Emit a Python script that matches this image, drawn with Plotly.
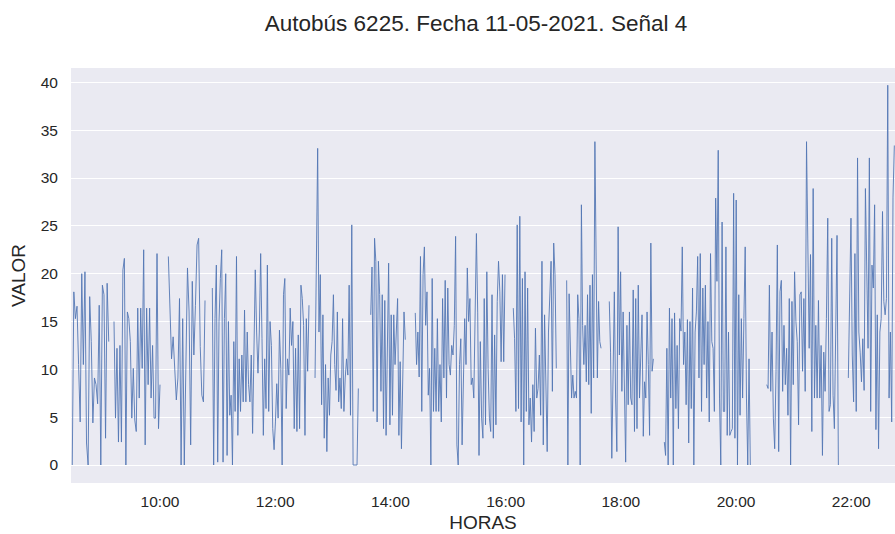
import pandas as pd
import plotly.graph_objects as go

DAY = "2021-05-11"

# Segment time bounds (start, end) — series has gaps between segments
seg_times = [
    ("08:28:36", "09:06:36"), ("09:12:06", "10:00:00"), ("10:08:42", "10:46:54"),
    ("10:54:30", "12:35:12"), ("12:41:30", "13:26:36"), ("13:39:30", "14:15:30"),
    ("14:25:54", "15:59:24"), ("16:08:00", "16:52:48"), ("17:03:36", "17:39:24"),
    ("17:48:00", "18:33:54"), ("18:45:18", "20:14:54"), ("20:32:00", "21:46:36"),
    ("21:57:00", "22:44:54"),
]

seg_a = [0, 18.1, 15.3, 16.6, 10.5, 4.5, 20.0, 10.5, 20.2, 2.3, 0, 17.6, 12.9, 4.4, 9.1, 8.4, 6.4, 16.7, 0, 18.8, 17.8, 2.8, 19.0, 12.9]
seg_b = [15.0, 4.9, 12.2, 2.4, 12.5, 2.4, 20.4, 21.6, 0, 16.0, 15.3, 12.9, 4.9, 10.1, 4.7, 3.5, 16.4, 7.0, 16.4, 10.1, 22.5, 2.1, 16.4, 8.4, 16.4, 7.0, 12.5, 4.9, 4.9, 22.1, 3.8, 8.4]
seg_c = [21.8, 16.7, 11.1, 13.4, 9.1, 6.8, 9.1, 17.4, 0, 15.3, 0, 10.5, 20.6, 16.0, 2.1, 19.2, 11.5, 16.7, 23.0, 23.7, 12.4, 7.3, 6.6, 17.2]
seg_d = [18.5, 0, 15.3, 20.9, 0.3, 15.0, 19.5, 22.5, 0.3, 15.3, 20.0, 1.0, 15.0, 5.2, 7.3, 0, 12.9, 5.6, 21.8, 3.1, 11.1, 5.6, 11.5, 6.6, 16.2, 6.6, 13.9, 8.4, 6.6, 11.5, 3.3, 13.4, 20.4, 13.9, 9.6, 13.9, 22.1, 13.2, 3.1, 11.1, 5.9, 20.9, 5.6, 15.0, 12.5, 3.8, 1.6, 4.5, 8.5, 4.9, 14.1, 10.1, 0, 17.8, 19.5, 5.9, 11.1, 9.4, 16.4, 12.5, 15.0, 3.8, 12.2, 3.5, 13.6, 3.8, 18.8, 17.4, 14.6, 3.1, 15.3, 9.8, 16.7]
seg_e = [9.1, 19.9, 33.1, 13.9, 19.9, 6.3, 15.7, 2.8, 10.5, 1.4, 9.1, 5.2, 11.5, 12.9, 17.8, 10.5, 7.8, 16.0, 6.6, 9.1, 5.9, 15.3, 5.6, 9.1, 11.1, 9.4, 18.8, 5.2, 25.1, 0, 0, 0, 0, 8.0]
seg_f = [15.7, 20.7, 5.6, 23.7, 21.3, 4.5, 21.3, 17.8, 7.7, 17.8, 3.8, 17.2, 3.1, 13.9, 21.1, 4.2, 15.7, 5.2, 15.7, 10.5, 13.9, 17.4, 3.1, 10.8, 1.7, 7.3, 16.0, 13.1]
seg_g = [15.9, 10.5, 13.9, 9.2, 21.8, 5.6, 19.9, 22.8, 14.6, 18.1, 7.3, 10.1, 0, 19.5, 5.6, 12.2, 5.6, 15.3, 5.6, 10.5, 4.5, 17.4, 9.1, 19.3, 7.0, 18.5, 10.5, 9.4, 12.5, 11.5, 14.6, 23.9, 2.1, 0, 10.5, 13.2, 2.1, 10.5, 15.3, 10.5, 20.6, 15.0, 17.4, 8.4, 9.1, 7.0, 16.0, 24.2, 15.9, 1.0, 12.9, 4.9, 2.8, 17.4, 4.2, 20.2, 10.1, 4.9, 3.5, 17.8, 2.8, 13.6, 4.2, 17.1, 21.3, 18.1, 10.8, 19.9, 10.8, 19.9]
seg_h = [16.4, 13.2, 5.6, 25.1, 5.9, 26.0, 4.5, 19.5, 0, 20.2, 5.6, 18.5, 4.2, 7.0, 2.4, 8.4, 3.5, 14.3, 7.0, 8.0, 11.5, 5.2, 21.3, 2.1, 15.7, 6.3, 1.4, 13.9, 17.8, 21.3, 7.7, 23.2, 19.9, 10.1]
seg_i = [19.3, 0, 17.9, 12.2, 7.0, 9.4, 7.0, 7.7, 7.0, 17.8, 15.3, 0, 27.2, 14.6, 10.5, 14.6, 8.7, 17.8, 8.4, 18.8, 5.4, 19.9, 9.1, 33.8, 17.4, 9.1, 17.1, 12.9, 12.2]
seg_j = [17.1, 11.8, 0.7, 10.5, 18.1, 7.0, 1.4, 24.9, 11.5, 20.2, 7.7, 16.0, 8.0, 0.3, 14.6, 6.3, 16.0, 7.0, 6.3, 18.3, 3.5, 17.4, 3.8, 18.8, 7.0, 10.5, 15.7, 3.0, 8.7, 7.0, 16.0, 10.5, 3.1, 23.2, 9.8, 11.1]
seg_k = [2.4, 1.0, 12.2, 0, 16.4, 7.0, 15.3, 0, 15.9, 5.9, 12.5, 3.8, 15.3, 14.0, 22.8, 10.5, 13.9, 6.3, 15.2, 2.3, 15.0, 5.9, 18.5, 0, 13.9, 16.0, 21.8, 9.1, 22.1, 5.6, 18.5, 10.5, 18.8, 7.0, 15.0, 4.5, 22.1, 12.9, 12.2, 5.6, 27.9, 19.2, 32.9, 7.0, 0, 25.4, 5.6, 5.6, 22.8, 3.1, 13.9, 3.1, 3.5, 3.8, 28.4, 2.8, 27.7, 0, 17.8, 5.2, 15.3, 7.0, 15.3, 22.8, 7.0, 0, 11.1, 0]
seg_l = [8.4, 8.0, 18.8, 7.7, 13.9, 4.9, 1.7, 9.8, 23.0, 1.4, 18.1, 19.3, 7.7, 14.6, 8.4, 12.2, 5.2, 17.4, 0, 17.1, 8.4, 20.2, 15.0, 12.9, 4.2, 17.8, 18.1, 9.8, 17.4, 7.7, 33.8, 23.3, 12.2, 22.0, 3.5, 28.9, 7.0, 14.6, 7.0, 17.2, 7.0, 12.5, 1.0, 11.8, 7.7, 15.3, 25.8, 5.6, 6.3, 23.7, 7.3, 3.8, 16.7, 24.0, 0]
seg_m = [9.1, 19.2, 25.8, 11.5, 6.6, 22.1, 5.6, 32.1, 13.9, 11.8, 8.7, 13.2, 7.8, 28.9, 17.4, 12.2, 32.1, 5.6, 20.9, 18.5, 27.2, 3.7, 15.7, 1.7, 13.9, 15.3, 26.5, 17.1, 15.7, 17.4, 39.7, 7.0, 13.9, 4.5, 28.0, 33.4]

segments = [seg_a, seg_b, seg_c, seg_d, seg_e, seg_f, seg_g, seg_h, seg_i, seg_j, seg_k, seg_l, seg_m]

x_all, y_all = [], []
for (t0, t1), vals in zip(seg_times, segments):
    times = pd.date_range(f"{DAY} {t0}", f"{DAY} {t1}", periods=len(vals))
    x_all.extend(times.to_pydatetime().tolist())
    y_all.extend(vals)
    x_all.append(None)
    y_all.append(None)

tick_hours = ["10:00", "12:00", "14:00", "16:00", "18:00", "20:00", "22:00"]
tick_vals = [pd.Timestamp(f"{DAY} {h}") for h in tick_hours]
y_ticks = [0, 5, 10, 15, 20, 25, 30, 35, 40]

FONT = "Liberation Sans, Arial, sans-serif"
TXT = "#262626"

fig = go.Figure()
fig.add_trace(go.Scatter(
    x=x_all, y=y_all, mode="lines", connectgaps=False,
    line=dict(color="#5377B4", width=0.9), showlegend=False,
))

fig.update_layout(
    width=895, height=534,
    margin=dict(l=71, r=0, t=68, b=51),
    paper_bgcolor="white", plot_bgcolor="#EAEAF2",
    font=dict(family=FONT, color=TXT),
    title=dict(text="Autobús 6225. Fecha 11-05-2021. Señal 4", font=dict(size=22.5, color=TXT),
               xref="container", x=476 / 895, xanchor="center",
               yref="container", y=1 - 23 / 534, yanchor="middle"),
)
fig.update_xaxes(
    range=[pd.Timestamp(f"{DAY} 08:27:18"), pd.Timestamp(f"{DAY} 22:45:36")],
    tickvals=tick_vals, ticktext=tick_hours, showgrid=False, zeroline=False,
    showline=False, ticks="", ticklabelstandoff=7, tickfont=dict(size=15.5, color=TXT),
    title=dict(text="HORAS", font=dict(size=19, color=TXT), standoff=7),
)
fig.update_yaxes(
    range=[-1.88, 41.5], tickvals=y_ticks, showgrid=True, gridcolor="white", gridwidth=1.3,
    zeroline=False, showline=False, ticks="", ticklabelstandoff=12,
    tickfont=dict(size=15.5, color=TXT),
    title=dict(text="VALOR", font=dict(size=19, color=TXT), standoff=10),
)

fig.write_html("out.html")
